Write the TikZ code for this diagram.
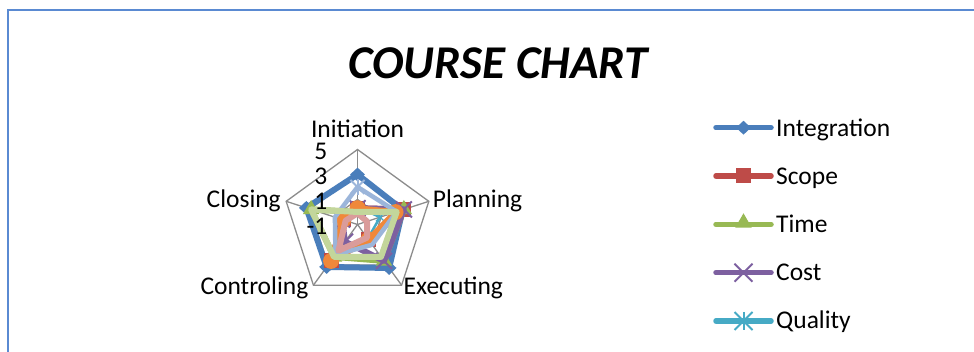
\documentclass[tikz,border=0pt]{standalone}
\usepackage{fontspec}
\setmainfont{Carlito}
\usetikzlibrary{shapes.geometric,shapes.misc,calc}
\definecolor{frameblue}{HTML}{5A8AD2}
\definecolor{gridgray}{HTML}{8C8C8C}
\definecolor{cint}{HTML}{4A7EBB}
\definecolor{csco}{HTML}{BE4B48}
\definecolor{ctim}{HTML}{98B954}
\definecolor{ccos}{HTML}{7D60A0}
\definecolor{cqua}{HTML}{46AAC5}
\definecolor{cora}{HTML}{F0883A}
\definecolor{clbl}{HTML}{9BB5DA}
\definecolor{cpnk}{HTML}{DA9C9B}
\definecolor{clgr}{HTML}{C3D69B}
\begin{document}
\begin{tikzpicture}[x=1pt,y=1pt,
  grid/.style={gridgray, line width=1.3pt},
  sline/.style={line width=6pt, line join=round, line cap=round},
  lbl/.style={font=\fontsize{25.5}{30}\selectfont, inner sep=0pt},
  mdiam/.style={diamond, minimum width=15pt, minimum height=14pt, inner sep=0pt, fill=cint},
  msq/.style={rectangle, minimum size=15pt, inner sep=0pt, fill=csco},
  mtri/.style={regular polygon, regular polygon sides=3, minimum size=19pt, inner sep=0pt, fill=ctim},
  mx/.style={cross out, minimum size=14pt, inner sep=0pt, draw=ccos, line width=2pt},
  mstar/.style={cross out, minimum size=14pt, inner sep=0pt, draw=cqua, line width=2pt},
  mcirc/.style={circle, minimum size=16pt, inner sep=0pt, fill=cora}]
\useasboundingbox (0,0) rectangle (974,352);
\fill[white] (0,0) rectangle (974,352);
% frame
\draw[frameblue, line width=2pt] (8,0) |- (974,342);
% title
\node[font=\fontsize{47}{56}\selectfont\bfseries\itshape, inner sep=0pt, anchor=base] (title) at (498,273.7) {COURSE CHART};
% radar centre
\coordinate (C) at (357.5,127.5);
\begin{scope}[shift={(C)}]
  \foreach \r in {25,50,75}
    \draw[grid] (90:\r) -- (18:\r) -- (-54:\r) -- (-126:\r) -- (162:\r) -- cycle;
  \foreach \a in {90,18,-54,-126,162}
    \draw[grid] (0,0) -- (\a:75);
\end{scope}
% series values: Initiation, Planning, Executing, Controling, Closing
\foreach \s/\va/\vb/\vc/\vd/\ve in {
   int/3/2.8/3.3/3.2/3.3,
   sco/0.3/2.9/0.5/2.6/0.2,
   tim/0/2.9/2.6/2.2/2.9,
   cos/0.3/2.9/2.6/0.7/0.3,
   qua/0.4/0.9/0.4/2.4/0.3,
   ora/0.3/2.2/0.5/2.6/0.2,
   lbl/2/2.3/1/2/0.9,
   pnk/-0.1/-0.2/0.3/1.6/0,
   lgr/0/2.3/2.2/2.2/2.9}{
  \coordinate (\s1) at ($(C)+(90:{(\va+1)*12.5})$);
  \coordinate (\s2) at ($(C)+(18:{(\vb+1)*12.5})$);
  \coordinate (\s3) at ($(C)+(-54:{(\vc+1)*12.5})$);
  \coordinate (\s4) at ($(C)+(-126:{(\vd+1)*12.5})$);
  \coordinate (\s5) at ($(C)+(162:{(\ve+1)*12.5})$);
}
% Integration
\draw[sline, cint] (int1) -- (int2) -- (int3) -- (int4) -- (int5) -- cycle;
\foreach \k in {1,...,5} \node[mdiam] (mint\k) at (int\k) {};
% Scope
\draw[sline, csco] (sco1) -- (sco2) -- (sco3) -- (sco4) -- (sco5) -- cycle;
\foreach \k in {1,...,5} \node[msq] (msco\k) at (sco\k) {};
% Time
\draw[sline, ctim] (tim1) -- (tim2) -- (tim3) -- (tim4) -- (tim5) -- cycle;
\foreach \k in {1,...,5} \node[mtri] (mtim\k) at (tim\k) {};
% Cost
\draw[sline, ccos] (cos1) -- (cos2) -- (cos3) -- (cos4) -- (cos5) -- cycle;
\foreach \k in {1,...,5} \node[mx] (mcos\k) at (cos\k) {};
% Quality
\draw[line width=2.5pt, line join=round, cqua] (qua1) -- (qua2) -- (qua3) -- (qua4) -- (qua5) -- cycle;
\foreach \k in {1,...,5} \node[mstar, minimum size=7pt, line width=1.2pt] (mqua\k) at (qua\k) {};
% orange
\draw[sline, cora] (ora1) -- (ora2) -- (ora3) -- (ora4) -- (ora5) -- cycle;
\foreach \k in {1,...,5} \node[mcirc] (mora\k) at (ora\k) {};
% light blue
\draw[sline, line width=4.5pt, clbl] (lbl1) -- (lbl2) -- (lbl3) -- (lbl4) -- (lbl5) -- cycle;
\node[cross out, draw=clbl, line width=2pt, minimum size=12pt, inner sep=0pt] (mlbl1) at (lbl1) {};
\draw[clbl, line width=2pt] ($(lbl1)+(0,8)$) -- ($(lbl1)+(0,-8)$);
% pink
\draw[sline, cpnk] (pnk1) -- (pnk2) -- (pnk3) -- (pnk4) -- (pnk5) -- cycle;
% light green
\draw[sline, line width=6pt, clgr] (lgr1) -- (lgr2) -- (lgr3) -- (lgr4) -- (lgr5) -- cycle;
% axis labels
\node[lbl, anchor=base] (ini) at (357.5,214.5) {Initiation};
\node[lbl, anchor=base west] (pla) at (432.7,144.5) {Planning};
\node[lbl, anchor=base west] (exe) at (403.5,57) {Executing};
\node[lbl, anchor=base east] (con) at (308.5,57) {Controling};
\node[lbl, anchor=base east] (clo) at (281,144.5) {Closing};
% value labels
\node[lbl, anchor=base east] (v5) at (327.5,192) {5};
\node[lbl, anchor=base east] (v3) at (327.5,167) {3};
\node[lbl, anchor=base east] (v1) at (327.5,142) {1};
\node[lbl, anchor=base east] (vm1) at (327.5,117.5) {-1};
% legend
\coordinate (la1) at (716,224.3); \coordinate (lb1) at (771,224.3);
\coordinate (la2) at (716,176);   \coordinate (lb2) at (771,176);
\coordinate (la3) at (716,127.7); \coordinate (lb3) at (771,127.7);
\coordinate (la4) at (716,79.3);  \coordinate (lb4) at (771,79.3);
\coordinate (la5) at (716,31);    \coordinate (lb5) at (771,31);
\draw[sline, line width=5.5pt, cint] (la1) -- (lb1);
\node[mdiam] (lm1) at ($(la1)!0.5!(lb1)$) {};
\draw[sline, line width=5.5pt, csco] (la2) -- (lb2);
\node[msq] (lm2) at ($(la2)!0.5!(lb2)$) {};
\draw[sline, line width=5.5pt, ctim] (la3) -- (lb3);
\node[mtri, yshift=1.5pt] (lm3) at ($(la3)!0.5!(lb3)$) {};
\draw[sline, line width=5.5pt, ccos] (la4) -- (lb4);
\node[mx, minimum size=16pt] (lm4) at ($(la4)!0.5!(lb4)$) {};
\draw[sline, line width=5.5pt, cqua] (la5) -- (lb5);
\node[mstar, minimum size=16pt] (lm5) at ($(la5)!0.5!(lb5)$) {};
\draw[cqua, line width=2pt] ($(lm5.center)+(0,9)$) -- ($(lm5.center)+(0,-9)$);
\node[lbl, anchor=base west] (lt1) at (776,215.3) {Integration};
\node[lbl, anchor=base west] (lt2) at (776,167.3) {Scope};
\node[lbl, anchor=base west] (lt3) at (776,119.3) {Time};
\node[lbl, anchor=base west] (lt4) at (776,71.3) {Cost};
\node[lbl, anchor=base west] (lt5) at (776,23.3) {Quality};
\end{tikzpicture}
\end{document}
